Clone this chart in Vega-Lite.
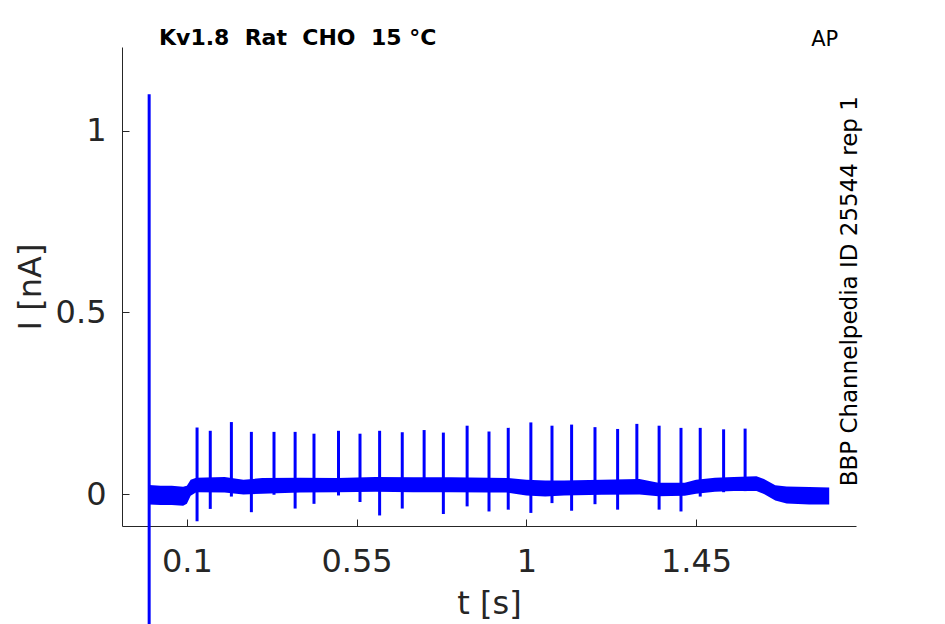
{
  "$schema": "https://vega.github.io/schema/vega-lite/v6.json",
  "width": 734,
  "height": 479,
  "autosize": "none",
  "padding": {"left": 122, "top": 47, "right": 89, "bottom": 98},
  "background": "white",
  "title": {
    "text": "Kv1.8 \u00a0Rat \u00a0CHO \u00a015 °C",
    "anchor": "start",
    "frame": "group",
    "dx": 37,
    "offset": -21,
    "font": "DejaVu Sans",
    "fontSize": 22,
    "fontWeight": "bold",
    "color": "black"
  },
  "datasets": {
    "trace": [
      {"t": 0.0, "lo": -0.029, "hi": 0.025},
      {"t": 0.03, "lo": -0.030, "hi": 0.023},
      {"t": 0.06, "lo": -0.030, "hi": 0.023},
      {"t": 0.09, "lo": -0.032, "hi": 0.020},
      {"t": 0.1, "lo": -0.027, "hi": 0.023},
      {"t": 0.11, "lo": -0.005, "hi": 0.039},
      {"t": 0.125, "lo": 0.005, "hi": 0.045},
      {"t": 0.2, "lo": 0.004, "hi": 0.047},
      {"t": 0.25, "lo": -0.001, "hi": 0.039},
      {"t": 0.3, "lo": 0.001, "hi": 0.044},
      {"t": 0.4, "lo": 0.004, "hi": 0.045},
      {"t": 0.5, "lo": 0.005, "hi": 0.044},
      {"t": 0.6, "lo": 0.006, "hi": 0.047},
      {"t": 0.7, "lo": 0.005, "hi": 0.046},
      {"t": 0.8, "lo": 0.005, "hi": 0.046},
      {"t": 0.9, "lo": 0.004, "hi": 0.045},
      {"t": 0.95, "lo": 0.004, "hi": 0.044},
      {"t": 1.0, "lo": -0.004, "hi": 0.039},
      {"t": 1.05, "lo": -0.007, "hi": 0.037},
      {"t": 1.1, "lo": -0.004, "hi": 0.037},
      {"t": 1.2, "lo": -0.002, "hi": 0.039},
      {"t": 1.3, "lo": -0.001, "hi": 0.041},
      {"t": 1.35, "lo": -0.006, "hi": 0.031},
      {"t": 1.42, "lo": -0.005, "hi": 0.031},
      {"t": 1.45, "lo": 0.001, "hi": 0.039},
      {"t": 1.5, "lo": 0.006, "hi": 0.045},
      {"t": 1.55, "lo": 0.008, "hi": 0.047},
      {"t": 1.61, "lo": 0.008, "hi": 0.049},
      {"t": 1.63, "lo": 0.000, "hi": 0.041},
      {"t": 1.66, "lo": -0.018, "hi": 0.024},
      {"t": 1.69, "lo": -0.026, "hi": 0.021},
      {"t": 1.75, "lo": -0.029, "hi": 0.019},
      {"t": 1.803, "lo": -0.029, "hi": 0.018}
    ],
    "spikes": [
      {"t": 0.0, "hi": 1.10, "lo": -0.6},
      {"t": 0.127, "hi": 0.183, "lo": -0.075},
      {"t": 0.162, "hi": 0.174, "lo": -0.041},
      {"t": 0.218, "hi": 0.198, "lo": -0.007},
      {"t": 0.271, "hi": 0.171, "lo": -0.050},
      {"t": 0.331, "hi": 0.171, "lo": -0.002},
      {"t": 0.387, "hi": 0.171, "lo": -0.040},
      {"t": 0.437, "hi": 0.166, "lo": -0.027},
      {"t": 0.502, "hi": 0.174, "lo": -0.004},
      {"t": 0.559, "hi": 0.166, "lo": -0.022},
      {"t": 0.611, "hi": 0.174, "lo": -0.059},
      {"t": 0.671, "hi": 0.170, "lo": -0.040},
      {"t": 0.729, "hi": 0.176, "lo": 0.007},
      {"t": 0.780, "hi": 0.169, "lo": -0.055},
      {"t": 0.843, "hi": 0.188, "lo": -0.034},
      {"t": 0.901, "hi": 0.172, "lo": -0.048},
      {"t": 0.952, "hi": 0.182, "lo": -0.043},
      {"t": 1.012, "hi": 0.197, "lo": -0.052},
      {"t": 1.068, "hi": 0.188, "lo": -0.025},
      {"t": 1.120, "hi": 0.191, "lo": -0.046},
      {"t": 1.182, "hi": 0.184, "lo": -0.028},
      {"t": 1.242, "hi": 0.179, "lo": -0.043},
      {"t": 1.293, "hi": 0.193, "lo": 0.015},
      {"t": 1.352, "hi": 0.188, "lo": -0.043},
      {"t": 1.410, "hi": 0.182, "lo": -0.048},
      {"t": 1.461, "hi": 0.182, "lo": -0.007},
      {"t": 1.523, "hi": 0.178, "lo": 0.005},
      {"t": 1.580, "hi": 0.180, "lo": 0.008}
    ]
  },
  "layer": [
    {
      "data": {"name": "trace"},
      "mark": {"type": "area", "color": "#0000ff", "opacity": 1},
      "encoding": {
        "x": {
          "field": "t",
          "type": "quantitative",
          "scale": {"domain": [-0.072, 1.874], "nice": false, "zero": false},
          "axis": {
            "title": "t [s]",
            "values": [0.1, 0.55, 1, 1.45],
            "labelExpr": "datum.value + ''",
            "labelPadding": 27,
            "titlePadding": 11
          }
        },
        "y": {
          "field": "hi",
          "type": "quantitative",
          "scale": {"domain": [-0.088, 1.23], "nice": false, "zero": false},
          "axis": {
            "title": "I [nA]",
            "values": [0, 0.5, 1],
            "labelExpr": "datum.value + ''",
            "labelPadding": 23,
            "titlePadding": 8
          }
        },
        "y2": {"field": "lo"}
      }
    },
    {
      "data": {"name": "spikes"},
      "mark": {"type": "rule", "color": "#0000ff", "strokeWidth": 3},
      "encoding": {
        "x": {"field": "t", "type": "quantitative"},
        "y": {"field": "hi", "type": "quantitative"},
        "y2": {"field": "lo"}
      }
    },
    {
      "data": {"values": [{"label": "AP"}]},
      "mark": {
        "type": "text",
        "font": "DejaVu Sans",
        "fontSize": 21,
        "color": "black",
        "align": "center",
        "baseline": "alphabetic"
      },
      "encoding": {
        "x": {"datum": 1.791, "type": "quantitative"},
        "y": {"datum": 1.234, "type": "quantitative"},
        "text": {"field": "label"}
      }
    },
    {
      "data": {"values": [{"label": "BBP Channelpedia ID 25544 rep 1"}]},
      "mark": {
        "type": "text",
        "font": "DejaVu Sans",
        "fontSize": 23,
        "color": "black",
        "align": "center",
        "baseline": "alphabetic",
        "angle": 270
      },
      "encoding": {
        "x": {"datum": 1.877, "type": "quantitative"},
        "y": {"datum": 0.558, "type": "quantitative"},
        "text": {"field": "label"}
      }
    }
  ],
  "config": {
    "view": {"stroke": null},
    "axis": {
      "grid": false,
      "domainColor": "#262626",
      "domainWidth": 1,
      "tickColor": "#262626",
      "tickWidth": 1,
      "tickSize": -7,
      "labelFont": "DejaVu Sans",
      "labelFontSize": 32,
      "labelColor": "#262626",
      "titleFont": "DejaVu Sans",
      "titleFontSize": 32,
      "titleFontWeight": "normal",
      "titleColor": "#262626"
    }
  }
}
